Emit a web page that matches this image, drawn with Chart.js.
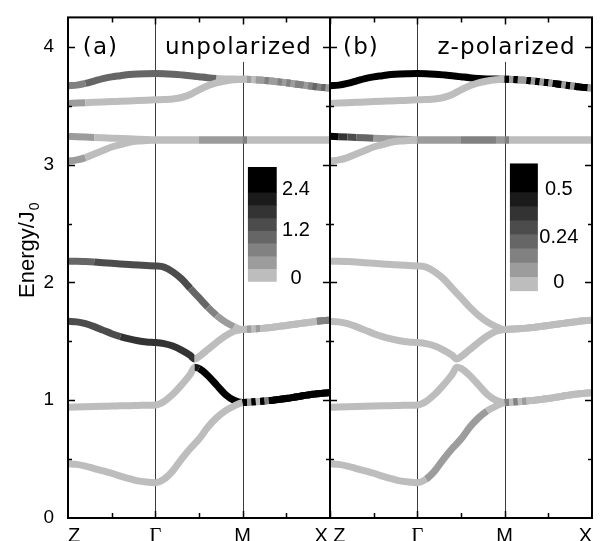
<!DOCTYPE html>
<html>
<head>
<meta charset="utf-8">
<script src="https://cdn.jsdelivr.net/npm/chart.js@4/dist/chart.umd.min.js"></script>
<style>
  html, body { margin: 0; padding: 0; background: #fff; }
  canvas { display: block; }
</style>
</head>
<body>
<canvas id="bands" width="602" height="541"></canvas>
<script>
/* wave vector along Z-G-M-X (Z=0, G=1, M=2, X=3) */
var kPts = [0,0.1,0.2,0.3,0.4,0.5,0.6,0.7,0.8,0.9,1.0,1.1,1.2,1.3,1.4,1.45,1.5,1.6,1.7,1.8,1.9,2.0,
  2.05,2.1,2.15,2.2,2.25,2.3,2.35,2.4,2.45,2.5,2.55,2.6,2.65,2.7,2.75,2.8,2.85,2.9,2.95,3.0];

/* band energies (Energy/J0), same for both panels */
var band1 = [0.46,0.455,0.44,0.42,0.40,0.38,0.355,0.335,0.315,0.305,0.30,0.33,0.40,0.50,0.59,0.63,0.67,0.77,0.85,0.91,0.95,0.98,
  0.982,0.985,0.987,0.99,0.993,0.997,1.0,1.005,1.01,1.015,1.02,1.027,1.033,1.04,1.045,1.05,1.055,1.058,1.061,1.063];
var band2 = [0.94,0.942,0.944,0.946,0.948,0.95,0.952,0.954,0.956,0.958,0.96,0.99,1.05,1.13,1.22,1.28,1.27,1.21,1.13,1.05,1.0,0.98,
  0.982,0.985,0.987,0.99,0.993,0.997,1.0,1.005,1.01,1.015,1.02,1.027,1.033,1.04,1.045,1.05,1.055,1.058,1.061,1.063];
var band3 = [1.67,1.665,1.65,1.625,1.595,1.565,1.54,1.52,1.505,1.495,1.49,1.48,1.46,1.425,1.38,1.35,1.37,1.43,1.49,1.545,1.585,1.60,
  1.602,1.604,1.606,1.609,1.612,1.616,1.62,1.625,1.63,1.635,1.64,1.645,1.65,1.655,1.66,1.665,1.67,1.674,1.677,1.68];
var band4 = [2.18,2.18,2.177,2.173,2.168,2.162,2.157,2.152,2.147,2.143,2.14,2.13,2.09,2.03,1.95,1.91,1.87,1.79,1.72,1.665,1.625,1.60,
  1.602,1.604,1.606,1.609,1.612,1.616,1.62,1.625,1.63,1.635,1.64,1.645,1.65,1.655,1.66,1.665,1.67,1.674,1.677,1.68];
var band5 = [3.03,3.04,3.06,3.09,3.12,3.15,3.17,3.19,3.20,3.205,3.21,3.21,3.21,3.21,3.21,3.21,3.21,3.21,3.21,3.21,3.21,3.21,
  3.21,3.21,3.21,3.21,3.21,3.21,3.21,3.21,3.21,3.21,3.21,3.21,3.21,3.21,3.21,3.21,3.21,3.21,3.21,3.21];
var band6 = [3.24,3.237,3.234,3.231,3.228,3.225,3.222,3.219,3.216,3.213,3.21,3.21,3.21,3.21,3.21,3.21,3.21,3.21,3.21,3.21,3.21,3.21,
  3.21,3.21,3.21,3.21,3.21,3.21,3.21,3.21,3.21,3.21,3.21,3.21,3.21,3.21,3.21,3.21,3.21,3.21,3.21,3.21];
var band7 = [3.52,3.523,3.526,3.529,3.532,3.535,3.538,3.541,3.544,3.547,3.55,3.553,3.558,3.57,3.595,3.615,3.635,3.67,3.695,3.71,3.72,3.725,
  3.724,3.722,3.72,3.718,3.715,3.712,3.708,3.704,3.70,3.695,3.69,3.685,3.68,3.675,3.67,3.665,3.66,3.656,3.653,3.65];
var band8 = [3.67,3.675,3.69,3.71,3.73,3.745,3.755,3.765,3.77,3.772,3.773,3.772,3.768,3.762,3.755,3.75,3.746,3.738,3.732,3.728,3.726,3.725,
  3.724,3.722,3.72,3.718,3.715,3.712,3.708,3.704,3.70,3.695,3.69,3.685,3.68,3.675,3.67,3.665,3.66,3.656,3.653,3.65];

/* colour level per segment (0 = light .. 8 = black), panel (a) unpolarized */
var wA1 = [0,0,0,0,0,0,0,0,0,0,0,0,0,0,0,0,0,0,0,0,0,7,1,7,0,7,2,7,7,7,7,7,7,7,7,7,7,7,7,7,7,7];
var wA2 = [0,0,0,0,0,0,0,0,0,0,0,0,0,0,0,6,7,7,7,7,7,7,1,7,0,7,2,7,7,7,7,7,7,7,7,7,7,7,7,7,7,7];
var wA3 = [4,4,4,4,4,4,5,5,5,5,5,5,5,5,5,0,0,0,0,0,0,0,1,0,1,0,0,0,0,0,0,0,0,0,0,0,0,0,2,2,2,2];
var wA4 = [3,3,3,4,4,4,4,4,4,4,4,4,4,4,3,3,3,2,1,1,0,0,1,0,1,0,0,0,0,0,0,0,0,0,0,0,0,0,2,2,2,2];
var wA5 = [1,1,0,0,0,0,0,0,0,0,0,0,0,0,0,0,1,1,1,1,1,2,0,0,0,0,0,0,0,0,0,0,0,0,0,0,0,0,0,0,0,0];
var wA6 = [1,1,1,0,0,0,0,0,0,0,0,0,0,0,0,0,1,1,1,1,1,2,0,0,0,0,0,0,0,0,0,0,0,0,0,0,0,0,0,0,0,0];
var wA7 = [1,1,0,0,0,0,0,0,0,0,0,0,0,0,0,0,0,0,0,0,0,0,1,0,1,1,2,1,1,2,1,2,1,2,2,1,2,3,2,3,1,1];
var wA8 = [2,2,3,3,3,3,3,3,3,3,3,3,3,3,3,3,3,3,0,0,0,0,1,0,1,1,2,1,1,2,1,2,1,2,2,1,2,3,2,3,1,1];

/* colour level per segment, panel (b) z-polarized */
var wB1 = [0,0,0,0,0,0,0,0,0,0,0,1,1,1,1,1,1,1,1,0,0,2,0,2,0,1,0,0,0,0,0,0,0,0,0,0,0,0,0,0,0,0];
var wB2 = [0,0,0,0,0,0,0,0,0,0,0,0,0,0,0,0,0,0,0,0,0,2,0,2,0,1,0,0,0,0,0,0,0,0,0,0,0,0,0,0,0,0];
var wB3 = [0,0,0,0,0,0,0,0,0,0,0,0,0,0,0,0,0,0,0,0,0,0,0,0,0,0,0,0,0,0,0,0,0,0,0,0,0,0,0,0,0,0];
var wB4 = [0,0,0,0,0,0,0,0,0,0,0,0,0,0,0,0,0,0,0,0,0,0,0,0,0,0,0,0,0,0,0,0,0,0,0,0,0,0,0,0,0,0];
var wB5 = [0,0,0,0,0,0,0,0,0,0,1,1,1,1,1,1,2,2,2,2,1,2,0,0,0,0,0,0,0,0,0,0,0,0,0,0,0,0,0,0,0,0];
var wB6 = [7,5,4,3,3,1,1,1,1,1,1,1,1,1,1,1,2,2,2,2,1,2,0,0,0,0,0,0,0,0,0,0,0,0,0,0,0,0,0,0,0,0];
var wB7 = [0,0,0,0,0,0,0,0,0,0,0,0,0,0,0,0,0,0,0,0,0,7,1,7,1,1,7,1,7,1,7,1,7,7,1,7,1,7,7,7,1,1];
var wB8 = [7,7,7,7,7,7,7,7,7,7,7,7,7,7,7,7,7,7,7,7,7,7,1,7,1,1,7,1,7,1,7,1,7,7,1,7,1,7,7,7,1,1];

/* grey scale used by bands and colour bars */
var grays = ['#bdbdbd','#9c9c9c','#818181','#666666','#4c4c4c','#333333','#1a1a1a','#000000','#000000'];

var xTickVals = [0, 1, 2, 3, 4, 5, 6];
var xTickLabels = ['Z', 'Γ', 'M', 'X Z', 'Γ', 'M', 'X'];
var yTickVals = [0, 1, 2, 3, 4];
var symLines = [1, 2, 4, 5];

var cbLabelsA = ['2.4', '1.2', '0'];
var cbLabelsB = ['0.5', '0.24', '0'];
var panelTags = ['(a)', '(b)'];
var panelNames = ['unpolarized', 'z-polarized'];

var bands = [band1, band2, band3, band4, band5, band6, band7, band8];
var wA = [wA1, wA2, wA3, wA4, wA5, wA6, wA7, wA8];
var wB = [wB1, wB2, wB3, wB4, wB5, wB6, wB7, wB8];

/* one dataset per band and panel, panel (b) shifted by 3 on x */
function makeSet(e, w, shift) {
	return {
		data: kPts.map(function(k, i) { return {x: k + shift, y: e[i]}; }),
		borderColor: grays[0],
		borderWidth: 7,
		pointRadius: 0,
		fill: false,
		cubicInterpolationMode: 'monotone',
		borderCapStyle: 'butt',
		borderJoinStyle: 'round',
		segment: {
			borderColor: function(c) { return grays[w[c.p0DataIndex]]; }
		}
	};
}

var datasets = [];
bands.forEach(function(e, i) { datasets.push(makeSet(e, wA[i], 0)); });
bands.forEach(function(e, i) { datasets.push(makeSet(e, wB[i], 3)); });

var framePlugin = {
	id: 'frame',

	/* thin lines at G and M */
	beforeDatasetsDraw: function(chart) {
		var ctx = chart.ctx, a = chart.chartArea, x = chart.scales.x;
		ctx.save();
		ctx.strokeStyle = '#3a3a3a';
		ctx.lineWidth = 1;
		symLines.forEach(function(v) {
			var px = Math.round(x.getPixelForValue(v)) + 0.5;
			ctx.beginPath();
			ctx.moveTo(px, a.top);
			ctx.lineTo(px, a.bottom);
			ctx.stroke();
		});
		ctx.restore();
	},

	afterDatasetsDraw: function(chart) {
		var ctx = chart.ctx, a = chart.chartArea, x = chart.scales.x, y = chart.scales.y;
		ctx.save();

		/* colour bars */
		function colorBar(x0, x1, y0, y1, labels, labelY, labelX) {
			var px0 = x.getPixelForValue(x0), px1 = x.getPixelForValue(x1);
			var pyb = y.getPixelForValue(y0), pyt = y.getPixelForValue(y1);
			var h = (pyb - pyt) / grays.length;
			grays.forEach(function(g, i) {
				ctx.fillStyle = g;
				ctx.fillRect(px0, pyb - (i + 1) * h, px1 - px0, h + 0.5);
			});
			ctx.fillStyle = '#000';
			ctx.font = '20px "Liberation Sans", Arial, sans-serif';
			ctx.textAlign = 'center';
			ctx.textBaseline = 'middle';
			labels.forEach(function(t, i) {
				ctx.fillText(t, x.getPixelForValue(labelX), y.getPixelForValue(labelY[i]));
			});
		}
		colorBar(2.06, 2.39, 2.01, 2.98, cbLabelsA, [2.79, 2.44, 2.03], 2.61);
		colorBar(5.06, 5.38, 1.93, 3.01, cbLabelsB, [2.79, 2.38, 2.0], 5.62);

		/* panel captions on white boxes */
		ctx.font = '23px "DejaVu Sans", sans-serif';
		ctx.letterSpacing = '1.1px';
		ctx.textAlign = 'left';
		ctx.textBaseline = 'alphabetic';
		var base = y.getPixelForValue(3.94);
		[[0.17, panelTags[0]], [1.11, panelNames[0]], [3.15, panelTags[1]], [4.23, panelNames[1]]].forEach(function(p) {
			var px = x.getPixelForValue(p[0]);
			var w = ctx.measureText(p[1]).width;
			ctx.fillStyle = '#fff';
			ctx.fillRect(px - 4, a.top + 1, w + 8, base + 8 - a.top - 1);
			ctx.fillStyle = '#000';
			ctx.fillText(p[1], px, base);
		});
		ctx.letterSpacing = '0px';

		/* frame and middle border */
		ctx.strokeStyle = '#000';
		ctx.lineWidth = 2;
		ctx.strokeRect(a.left, a.top, a.right - a.left, a.bottom - a.top);
		var mid = x.getPixelForValue(3);
		ctx.beginPath();
		ctx.moveTo(mid, a.top);
		ctx.lineTo(mid, a.bottom);
		ctx.stroke();

		/* inward ticks */
		ctx.lineWidth = 1.5;
		ctx.beginPath();
		for (var v = 0.5; v < 6; v += 0.5) {
			var px = Math.round(x.getPixelForValue(v)) + 0.5;
			var len = (v % 1 === 0) ? 7 : 5;
			ctx.moveTo(px, a.bottom); ctx.lineTo(px, a.bottom - len);
			ctx.moveTo(px, a.top); ctx.lineTo(px, a.top + len);
		}
		for (var e = 0.5; e < 4.25; e += 0.5) {
			var py = Math.round(y.getPixelForValue(e)) + 0.5;
			var l2 = (e % 1 === 0) ? 7 : 4;
			ctx.moveTo(a.left, py); ctx.lineTo(a.left + l2, py);
			ctx.moveTo(mid - l2, py); ctx.lineTo(mid + l2, py);
			ctx.moveTo(a.right, py); ctx.lineTo(a.right - l2, py);
		}
		ctx.stroke();

		/* y axis title with subscript */
		ctx.translate(34, y.getPixelForValue(0) - 220);
		ctx.rotate(-Math.PI / 2);
		ctx.fillStyle = '#000';
		ctx.font = '22px "Liberation Sans", Arial, sans-serif';
		ctx.textAlign = 'left';
		ctx.textBaseline = 'alphabetic';
		ctx.fillText('Energy/J', 0, 0);
		var tw = ctx.measureText('Energy/J').width;
		ctx.font = '14px "Liberation Sans", Arial, sans-serif';
		ctx.fillText('0', tw + 1, 5);
		ctx.restore();
	}
};

new Chart(document.getElementById('bands').getContext('2d'), {
	type: 'line',
	data: { datasets: datasets },
	plugins: [framePlugin],
	options: {
		responsive: false,
		animation: false,
		devicePixelRatio: 1,
		layout: { padding: { top: 8, right: 10, left: 0, bottom: 0 } },
		plugins: { legend: { display: false }, tooltip: { enabled: false } },
		scales: {
			x: {
				type: 'linear',
				min: 0,
				max: 6,
				grid: { display: false },
				border: { display: false },
				afterBuildTicks: function(s) {
					s.ticks = xTickVals.map(function(v) { return {value: v}; });
				},
				afterFit: function(s) { s.height = 23; },
				ticks: {
					autoSkip: false,
					maxRotation: 0,
					align: 'inner',
					padding: -2,
					color: '#000',
					callback: function(v, i) { return xTickLabels[i]; },
					font: function(c) {
						return xTickLabels[c.index] === 'Γ'
							? { family: '"Liberation Serif", serif', size: 21 }
							: { family: '"Liberation Sans", Arial, sans-serif', size: 20 };
					}
				}
			},
			y: {
				type: 'linear',
				min: 0,
				max: 4.25,
				grid: { display: false },
				border: { display: false },
				afterBuildTicks: function(s) {
					s.ticks = yTickVals.map(function(v) { return {value: v}; });
				},
				afterFit: function(s) { s.width = 68; },
				ticks: {
					padding: 6,
					color: '#000',
					font: { family: '"Liberation Sans", Arial, sans-serif', size: 19 }
				}
			}
		}
	}
});
</script>
</body>
</html>
